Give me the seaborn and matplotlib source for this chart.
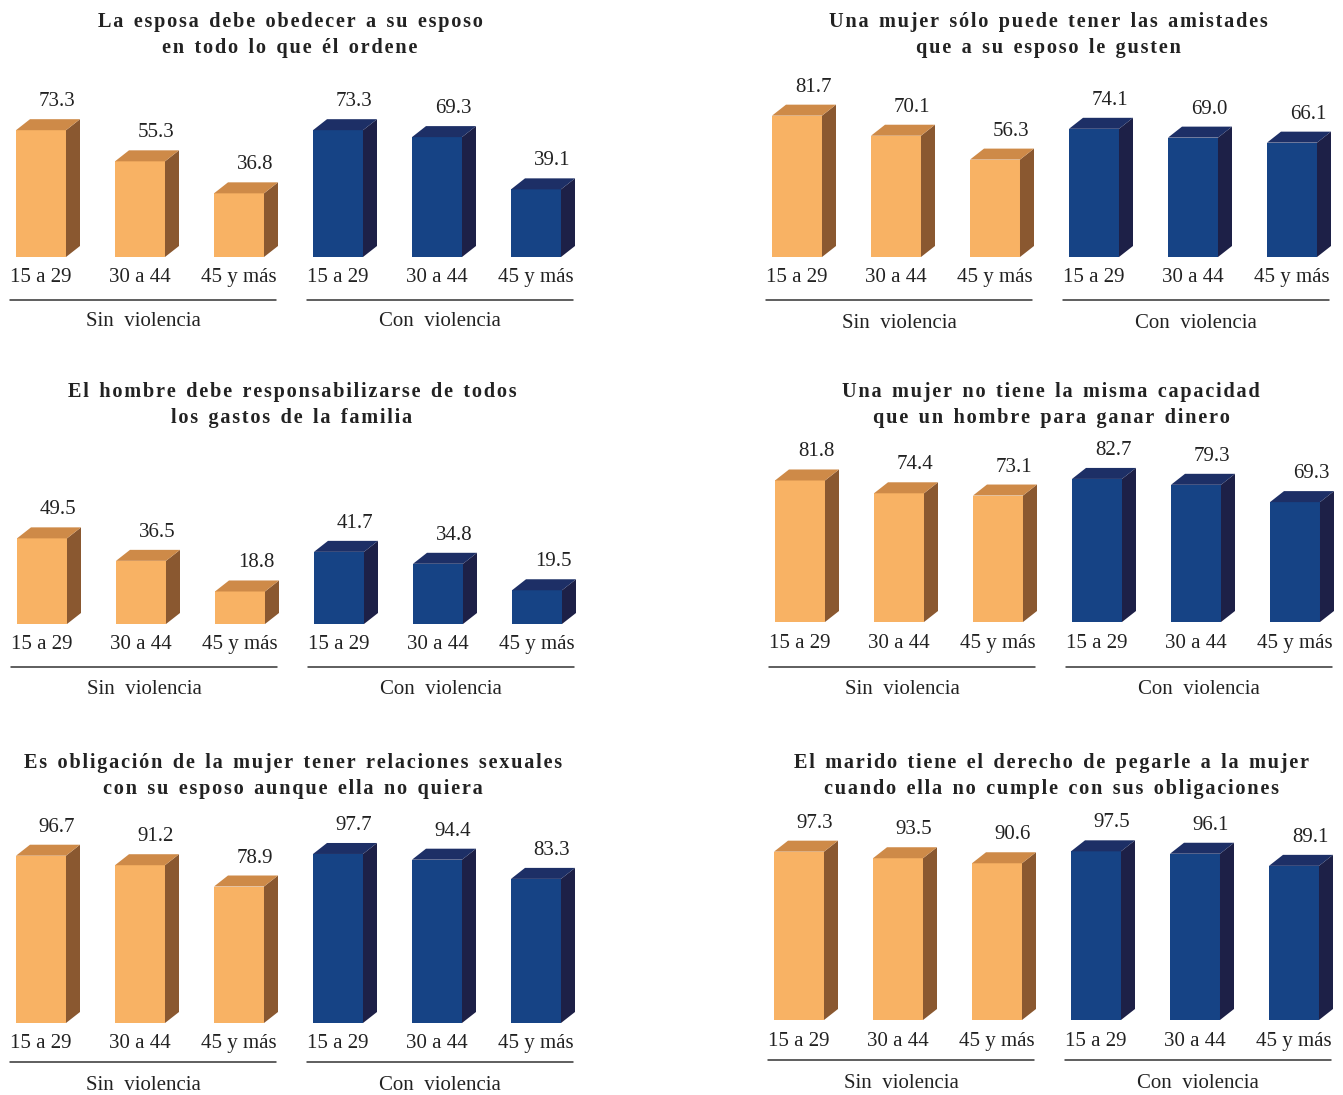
import pandas as pd
import seaborn as sns
import matplotlib.pyplot as plt
from matplotlib.patches import Polygon

# age groups and violence condition
ages = ["15 a 29", "30 a 44", "45 y más"]
groups = ["Sin violencia", "Con violencia"]

# percentages per panel: three ages without violence, then three with violence
obedecer = [73.3, 55.3, 36.8, 73.3, 69.3, 39.1]
amistades = [81.7, 70.1, 56.3, 74.1, 69.0, 66.1]
gastos = [49.5, 36.5, 18.8, 41.7, 34.8, 19.5]
capacidad = [81.8, 74.4, 73.1, 82.7, 79.3, 69.3]
relaciones = [96.7, 91.2, 78.9, 97.7, 94.4, 83.3]
pegarle = [97.3, 93.5, 90.6, 97.5, 96.1, 89.1]

titles = [
    ["La esposa debe obedecer a su esposo", "en todo lo que él ordene"],
    ["Una mujer sólo puede tener las amistades", "que a su esposo le gusten"],
    ["El hombre debe responsabilizarse de todos", "los gastos de la familia"],
    ["Una mujer no tiene la misma capacidad", "que un hombre para ganar dinero"],
    ["Es obligación de la mujer tener relaciones sexuales", "con su esposo aunque ella no quiera"],
    ["El marido tiene el derecho de pegarle a la mujer", "cuando ella no cumple con sus obligaciones"],
]
series = [obedecer, amistades, gastos, capacidad, relaciones, pegarle]

front = {"Sin violencia": "#F8B264", "Con violencia": "#164385"}
top_col = {"Sin violencia": "#CE8A48", "Con violencia": "#1D2F66"}
side_col = {"Sin violencia": "#8A5830", "Con violencia": "#1D2047"}

SERIF = ["Liberation Serif", "DejaVu Serif"]
TXT = "#222222"

W, H = 1343, 1095
PX_X = 99.0      # pixels per category step
PX_Y = 1.73      # pixels per percentage point
AX_H = 200       # axes height in pixels
DEPTH_X, DEPTH_Y = 14, 11

# panel layout in pixels: first bar centre, baseline, title centre, title baseline,
# tick pad (pt), group line offset, group label offset (below baseline)
layout = [
    (41, 257, 290, 27, 8, 43, 65),
    (797, 257, 1048, 27, 8, 43, 66),
    (42, 624, 292, 397, 8, 43, 66),
    (800, 622, 1051, 397, 8.5, 45, 68),
    (41, 1023, 293, 768, 8, 39, 63),
    (799, 1020, 1051, 768, 8.5, 40, 64),
]


def spaced(s):
    return "\u200a".join(s).replace(" ", " \u200a")


sns.set_theme(style="white")
plt.rcParams["font.family"] = SERIF

fig = plt.figure(figsize=(W / 100, H / 100), dpi=100)

keys = [f"{g}|{a}" for g in groups for a in ages]

for (c0, base, tx, ty, pad, line_dy, grp_dy), vals, ttl in zip(layout, series, titles):
    df = pd.DataFrame({
        "key": keys,
        "grupo": [g for g in groups for _ in ages],
        "valor": vals,
    })
    x_left = c0 - 0.3 * PX_X
    ax = fig.add_axes([x_left / W, (H - base) / H, 5.8 * PX_X / W, AX_H / H])
    sns.barplot(data=df, x="key", y="valor", hue="grupo", order=keys,
                hue_order=groups, palette=front, dodge=False, width=0.505,
                saturation=1, edgecolor="none", legend=False, ax=ax)
    ax.set_xlim(-0.3, 5.5)
    ax.set_ylim(0, AX_H / PX_Y)

    dx = DEPTH_X / PX_X
    dy = DEPTH_Y / PX_Y
    bars = [p for p in ax.patches if p.get_height() > 0]
    for p in bars:
        x0, w, h = p.get_x(), p.get_width(), p.get_height()
        g = groups[0] if x0 + w / 2 < 2.5 else groups[1]
        ax.add_patch(Polygon([(x0 + w, 0), (x0 + w + dx, dy), (x0 + w + dx, h + dy), (x0 + w, h)],
                             closed=True, facecolor=side_col[g], edgecolor="none", clip_on=False))
        ax.add_patch(Polygon([(x0, h), (x0 + dx, h + dy), (x0 + w + dx, h + dy), (x0 + w, h)],
                             closed=True, facecolor=top_col[g], edgecolor="none", clip_on=False))
        ax.text(x0 + w / 2 + 16 / PX_X, h + dy + 13 / PX_Y, f"{h:.1f}", ha="center",
                va="baseline", fontsize=15, color=TXT, family=SERIF)

    ax.set_xticks(range(6))
    ax.set_xticklabels(ages * 2)
    ax.tick_params(axis="x", length=0, pad=pad, labelsize=15, labelcolor=TXT)
    ax.set_yticks([])
    ax.set_xlabel("")
    ax.set_ylabel("")
    sns.despine(ax=ax, left=True, bottom=True)

    for i, g in enumerate(groups):
        a, b = 3 * i - 0.31, 3 * i + 2 + 0.37
        ax.plot([a, b], [-line_dy / PX_Y] * 2, color="#333333", lw=1.1, clip_on=False)
        ax.text((a + b) / 2, -grp_dy / PX_Y, g.replace(" ", "  "), ha="center", va="center",
                fontsize=15, color=TXT, family=SERIF)

    for k, line in enumerate(ttl):
        fig.text(tx / W, 1 - (ty + 26 * k) / H, spaced(line), ha="center", va="baseline",
                 fontsize=14.6, fontweight="bold", color=TXT, family=SERIF)

fig.savefig("out.png", dpi=100, facecolor="white")
